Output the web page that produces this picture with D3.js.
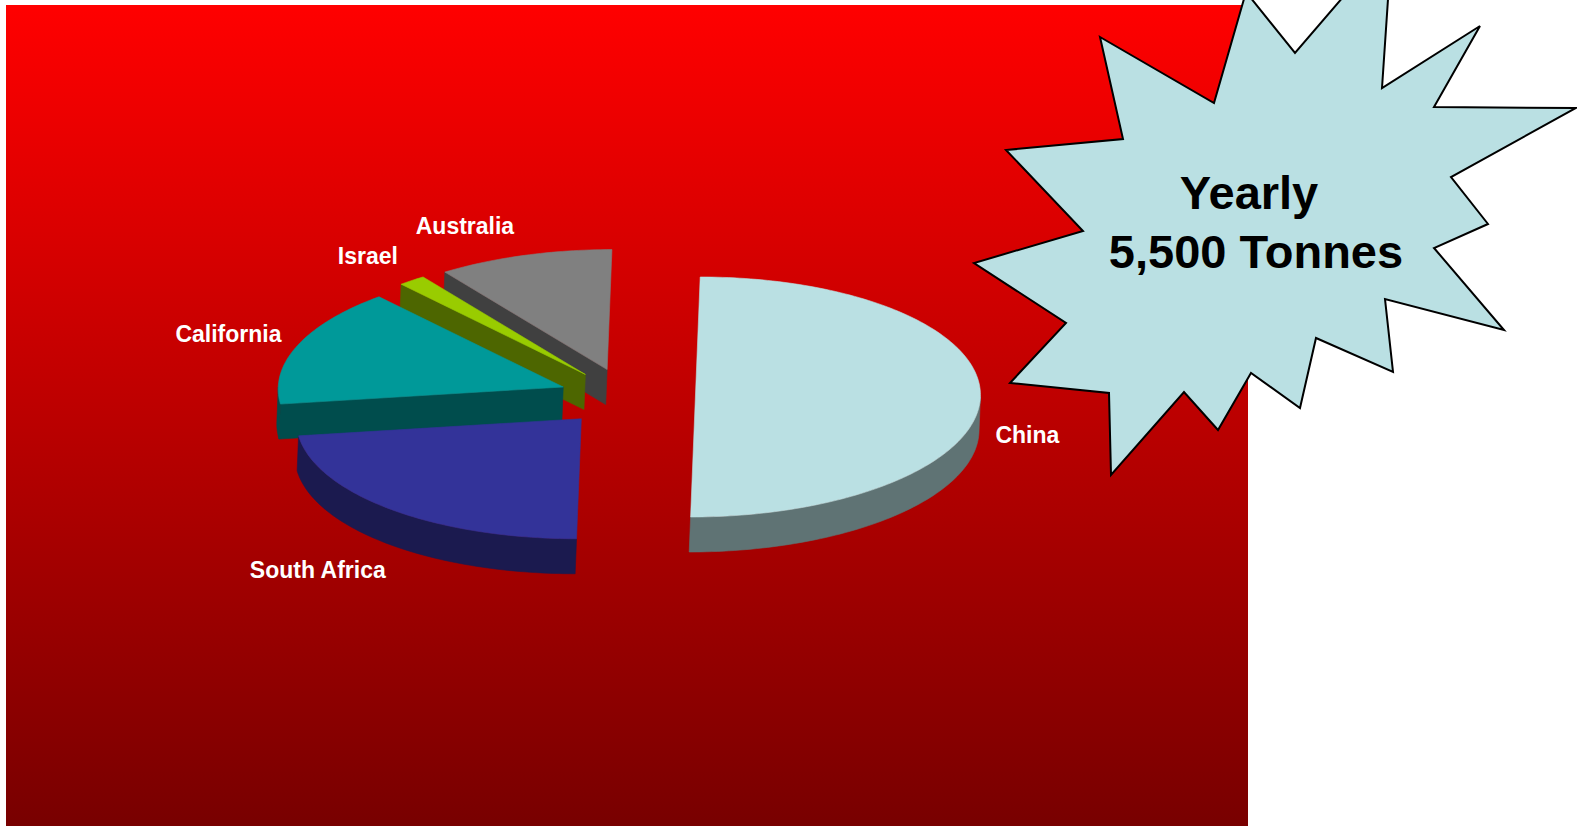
<!DOCTYPE html>
<html>
<head>
<meta charset="utf-8">
<script src="https://cdn.jsdelivr.net/npm/d3@7"></script>
<style>
  html, body { margin: 0; padding: 0; background: #fff; overflow: hidden; }
  svg { display: block; }
</style>
</head>
<body>
<svg id="chart" width="1577" height="826"></svg>
<script>
// data
const regions = ['China', 'South Africa', 'California', 'Israel', 'Australia']
const tonnes = [2750, 1250, 870, 85, 545]
const topColors = ['#BAE0E3', '#333399', '#009999', '#99CC00', '#808080']
const sideColors = ['#5F7374', '#1B1A4F', '#004D4D', '#4D6600', '#404040']
const calloutLines = ['Yearly', '5,500 Tonnes']

// callout star outline (outer / inner corners)
const burst = [
  [1100, 37], [1214, 103], [1246, -8], [1295, 53], [1392, -60], [1382, 88],
  [1480, 26], [1434, 107], [1576, 108], [1451, 177], [1488, 224], [1434, 248],
  [1504, 330], [1385, 299], [1393, 372], [1316, 338], [1300, 408], [1251, 373],
  [1218, 430], [1184, 392], [1111, 475], [1109, 393], [1010, 383], [1066, 323],
  [974, 263], [1083, 231], [1006, 150], [1123, 139]
]

const W = 1577, H = 826
const svg = d3.select('#chart')

// background gradient
const defs = svg.append('defs')
const grad = defs.append('linearGradient')
  .attr('id', 'bg').attr('x1', 0).attr('y1', 0).attr('x2', 0).attr('y2', 1)
grad.append('stop').attr('offset', '0%').attr('stop-color', '#FF0000')
grad.append('stop').attr('offset', '100%').attr('stop-color', '#780000')

svg.append('rect')
  .attr('x', 6).attr('y', 5)
  .attr('width', 1242).attr('height', H - 5)
  .attr('fill', 'url(#bg)')

// 3d pie geometry
const cx = 627, cy = 397, rx = 285, ry = 120, depth = 35
const explode = 0.24, skew = -0.04

function proj(ox, oy, a, r, z) {
  const y = cy + oy - ry * r * Math.cos(a) + z
  const x = cx + ox + rx * r * Math.sin(a) + skew * (y - cy)
  return [x, y]
}

function arcPts(ox, oy, a0, a1, z) {
  const n = Math.max(2, Math.ceil((a1 - a0) / 0.02))
  return d3.range(n + 1).map(i => proj(ox, oy, a0 + (a1 - a0) * i / n, 1, z))
}

const pie = d3.pie().sort(null).startAngle(0).endAngle(2 * Math.PI)
const arcs = pie(tonnes).map((d, i) => {
  const mid = (d.startAngle + d.endAngle) / 2
  return {
    i: i,
    a0: d.startAngle,
    a1: d.endAngle,
    mid: mid,
    ox: explode * rx * Math.sin(mid),
    oy: -explode * ry * Math.cos(mid)
  }
})

const line = d3.line()
const pieG = svg.append('g')

// back to front
arcs.slice().sort((a, b) => a.oy - b.oy).forEach(s => {
  const g = pieG.append('g')
  const side = sideColors[s.i]
  const walls = []

  // radial walls facing the viewer
  if (Math.sin(s.a0) < -1e-6) {
    walls.push([proj(s.ox, s.oy, 0, 0, 0), proj(s.ox, s.oy, s.a0, 1, 0),
                proj(s.ox, s.oy, s.a0, 1, depth), proj(s.ox, s.oy, 0, 0, depth)])
  }
  if (Math.sin(s.a1) > 1e-6) {
    walls.push([proj(s.ox, s.oy, 0, 0, 0), proj(s.ox, s.oy, s.a1, 1, 0),
                proj(s.ox, s.oy, s.a1, 1, depth), proj(s.ox, s.oy, 0, 0, depth)])
  }
  // outer wall, front half only
  const f0 = Math.max(s.a0, Math.PI / 2), f1 = Math.min(s.a1, 3 * Math.PI / 2)
  if (f1 > f0) {
    walls.push(arcPts(s.ox, s.oy, f0, f1, 0).concat(arcPts(s.ox, s.oy, f0, f1, depth).reverse()))
  }
  walls.forEach(p => {
    g.append('path').attr('d', line(p) + 'Z')
      .attr('fill', side).attr('stroke', side).attr('stroke-width', 0.6)
  })

  const top = [proj(s.ox, s.oy, 0, 0, 0)].concat(arcPts(s.ox, s.oy, s.a0, s.a1, 0))
  g.append('path').attr('d', line(top) + 'Z')
    .attr('fill', topColors[s.i]).attr('stroke', topColors[s.i]).attr('stroke-width', 0.6)
})

// data labels, outside end
svg.append('g').selectAll('text')
  .data(arcs)
  .join('text')
  .attr('x', d => cx + d.ox + Math.sin(d.mid) * (rx + 15))
  .attr('y', d => cy + d.oy - Math.cos(d.mid) * (ry + 30) + (Math.cos(d.mid) < 0.01 ? depth + 4 : 0) + 7)
  .attr('text-anchor', d => Math.sin(d.mid) < -0.3 ? 'end' : (Math.sin(d.mid) > 0.3 ? 'start' : 'middle'))
  .attr('font-family', '"Liberation Sans", Arial, sans-serif')
  .attr('font-weight', 'bold')
  .attr('font-size', 23)
  .attr('fill', '#fff')
  .text(d => regions[d.i])

// callout
svg.append('path')
  .attr('d', line(burst) + 'Z')
  .attr('fill', '#BAE0E3')
  .attr('stroke', '#000')
  .attr('stroke-width', 2)
  .attr('stroke-linejoin', 'miter')

svg.append('g').selectAll('text')
  .data(calloutLines)
  .join('text')
  .attr('x', (d, i) => i === 0 ? 1249 : 1256)
  .attr('y', (d, i) => 209 + i * 59)
  .attr('text-anchor', 'middle')
  .attr('font-family', '"Liberation Sans", Arial, sans-serif')
  .attr('font-weight', 'bold')
  .attr('font-size', 47)
  .attr('fill', '#000')
  .text(d => d)
</script>
</body>
</html>
